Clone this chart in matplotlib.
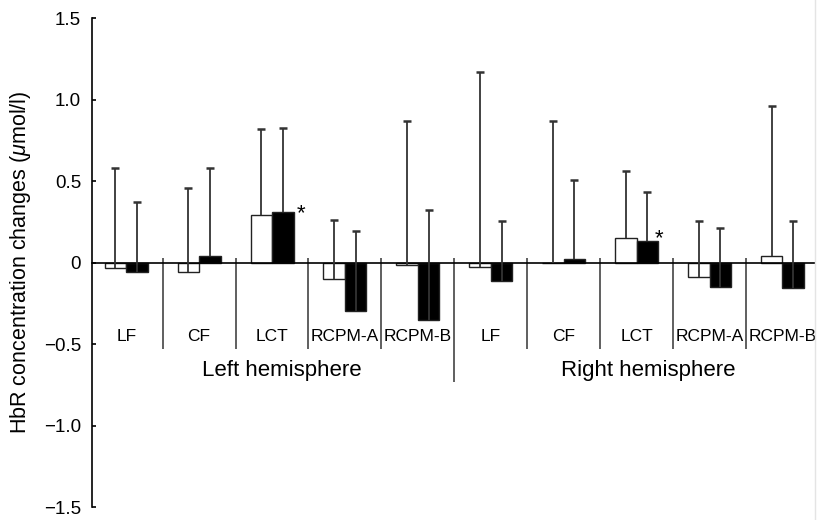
import matplotlib
matplotlib.use("Agg")
import matplotlib.pyplot as plt
from matplotlib.lines import Line2D
import numpy as np

plt.rcParams['font.family'] = ['Liberation Sans', 'DejaVu Sans']
plt.rcParams['mathtext.fontset'] = 'custom'
plt.rcParams['mathtext.it'] = 'Liberation Sans:italic'
plt.rcParams['mathtext.rm'] = 'Liberation Sans'

regions = ['LF', 'CF', 'LCT', 'RCPM-A', 'RCPM-B']
hemispheres = ['Left hemisphere', 'Right hemisphere']

# mean changes, open (white) and filled (black) bars, left then right hemisphere
white_mean = [-0.035, -0.057, 0.29, -0.10, -0.016,
              -0.026, 0.0, 0.152, -0.087, 0.04]
white_err = [0.613, 0.513, 0.53, 0.364, 0.882,
             1.198, 0.868, 0.41, 0.345, 0.923]
black_mean = [-0.057, 0.04, 0.308, -0.294, -0.355,
              -0.11, 0.024, 0.132, -0.148, -0.156]
black_err = [0.428, 0.538, 0.52, 0.487, 0.678,
             0.368, 0.483, 0.304, 0.361, 0.414]
star_groups = [2, 7]

yticks = [-1.5, -1.0, -0.5, 0, 0.5, 1.0, 1.5]
ytick_labels = ['\u22121.5', '\u22121.0', '\u22120.5', '0', '0.5', '1.0', '1.5']

fig = plt.figure(figsize=(8.19, 5.2), dpi=100)
ax = fig.add_axes([0.1125, 0.025, 0.883, 0.94])

x = np.arange(len(white_mean))
w = 0.295
edge = '#222222'

ax.bar(x - w / 2, white_mean, w, color='white', edgecolor=edge, linewidth=1.0, zorder=2)
ax.bar(x + w / 2, black_mean, w, color='black', edgecolor=edge, linewidth=1.0, zorder=2)

# one-sided error bars with a small cap on top
for xs, m, e in [(x - w / 2, white_mean, white_err), (x + w / 2, black_mean, black_err)]:
    m = np.array(m)
    top = m + np.array(e)
    ax.vlines(xs, m, top, color='#333333', linewidth=1.3, zorder=3)
    ax.plot(xs, top, linestyle='none', marker='_', markersize=6,
            markeredgewidth=1.8, color='#333333', zorder=3)

# separators between regions
for i in range(len(x) - 1):
    low = -0.735 if i == 4 else -0.53
    ax.vlines(i + 0.5, low, 0.026, color='#444444', linewidth=1.2, zorder=1)

for i, name in enumerate(regions * 2):
    ax.text(i, -0.455, name, ha='center', va='center', fontsize=12.5)

ax.text(2.14, -0.665, hemispheres[0], ha='center', va='center', fontsize=16)
ax.text(7.16, -0.665, hemispheres[1], ha='center', va='center', fontsize=16)

star_x = {2: 2.40, 7: 7.31}
star_y = {2: 0.30, 7: 0.145}
for g in star_groups:
    ax.text(star_x[g], star_y[g], '*', ha='center', va='center', fontsize=16)

ax.set_xlim(-0.467, 9.45)
ax.set_ylim(-1.5, 1.5)
ax.set_yticks(yticks)
ax.set_yticklabels(ytick_labels, fontsize=13.5)
ax.set_xticks([])
ax.tick_params(axis='y', direction='in', length=3, width=1.2, pad=8)

ax.spines['top'].set_visible(False)
ax.spines['right'].set_visible(False)
ax.spines['bottom'].set_position(('data', 0))
ax.spines['left'].set_linewidth(1.2)
ax.spines['bottom'].set_linewidth(1.2)

ax.set_ylabel('HbR concentration changes ($\\mu$mol/l)', fontsize=15.5)
ax.yaxis.set_label_coords(-0.082, 0.5)

fig.add_artist(Line2D([0.995, 0.995], [0, 1], transform=fig.transFigure,
                      color='#e4e4e4', linewidth=1))

fig.savefig('out.png', dpi=100)
